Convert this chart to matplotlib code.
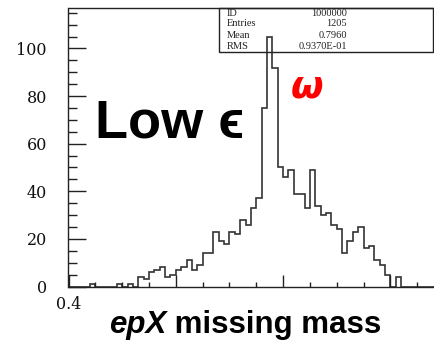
import numpy as np
import matplotlib
matplotlib.use('Agg')
import matplotlib.pyplot as plt
from matplotlib.ticker import MultipleLocator
from matplotlib.patches import Rectangle

# ---- data ----
hist_start = 0.4
bin_width = 0.01
counts = [0, 0, 0, 0, 1, 0, 0, 0, 0, 1,
          0, 1, 0, 4, 3, 6, 7, 8, 4, 5,
          7, 8, 11, 7, 9, 14, 14, 23, 19, 18,
          23, 22, 28, 26, 33, 37, 75, 105, 92, 50,
          46, 49, 39, 39, 33, 49, 34, 30, 31, 26,
          24, 14, 19, 23, 25, 16, 17, 11, 9, 5,
          0, 4, 0, 0, 0, 0, 0, 0, 0, 0]
xticks = [0.4, 0.6, 0.8, 1.0]
xtick_labels = ['0.4', '', '', '']
yticks = [0, 20, 40, 60, 80, 100]
ytick_labels = ['0', '20', '40', '60', '80', '100']
stats_names = ['ID', 'Entries', 'Mean', 'RMS']
stats_values = ['1000000', '1205', '0.7960', '0.9370E-01']

W, H = 435, 341
fig = plt.figure(figsize=(W / 100, H / 100), dpi=100)

def fx(px):
    return px / W

def fy(py):
    return 1 - py / H

left_px, right_px, top_px, bottom_px = 68.5, 444.0, 8.0, 286.5
ax = fig.add_axes([fx(left_px), fy(bottom_px), fx(right_px - left_px), (bottom_px - top_px) / H])

edges = hist_start + bin_width * np.arange(len(counts) + 1)
ax.stairs(counts, edges, color='#333333', linewidth=1.2, baseline=0)

ax.set_xlim(0.4, 1.1)
ax.set_ylim(0, 117)
ax.set_xticks(xticks)
ax.set_xticklabels(xtick_labels)
ax.set_yticks(yticks)
ax.set_yticklabels(ytick_labels)
ax.xaxis.set_minor_locator(MultipleLocator(0.05))
ax.yaxis.set_minor_locator(MultipleLocator(5))

for s in ax.spines.values():
    s.set_linewidth(1.0)
    s.set_color('#222222')
ax.spines['right'].set_visible(False)

ax.tick_params(axis='y', which='major', direction='in', length=12.7, width=1.0,
               pad=15.5, labelsize=11.5, colors='#222222')
ax.tick_params(axis='y', which='minor', direction='in', length=6.8, width=1.0, colors='#222222')
ax.tick_params(axis='x', which='major', direction='in', length=8.6, width=1.0,
               pad=7, labelsize=11.5, colors='#222222')
ax.tick_params(axis='x', which='minor', direction='in', length=3.6, width=1.0, colors='#222222')
for lab in ax.get_xticklabels() + ax.get_yticklabels():
    lab.set_family('DejaVu Serif')
    lab.set_color('#111111')

# stats box
box = Rectangle((fx(219), fy(52.3)), fx(433) - fx(219), fy(8) - fy(52.3),
                transform=fig.transFigure, fill=False, edgecolor='#222222', linewidth=1.0)
fig.add_artist(box)
line_y = [13.3, 24.0, 35.0, 46.7]
for name, val, yy in zip(stats_names, stats_values, line_y):
    fig.text(fx(226.5), fy(yy), name, ha='left', va='center', fontsize=7.5,
             family='Liberation Serif', color='#222222')
    fig.text(fx(347), fy(yy), val, ha='right', va='center', fontsize=7.5,
             family='Liberation Serif', color='#222222')

# annotations
fig.text(fx(95), fy(137), 'Low \u03f5', ha='left', va='baseline', fontsize=39,
         fontweight='bold', family=['Liberation Sans', 'DejaVu Sans'], color='black')
fig.text(fx(291), fy(98), '\u03c9', ha='left', va='baseline', fontsize=27,
         fontweight='bold', fontstyle='italic', family=['DejaVu Sans'], color='#ff0000')

# x label: "epX" bold italic + " missing mass" bold
t1 = fig.text(fx(109), fy(333), 'epX', ha='left', va='baseline', fontsize=22.5,
              fontweight='bold', fontstyle='italic', family='Liberation Sans', color='black')
fig.text(0, 0, '', fontsize=1)
ax.annotate(' missing mass', xy=(1, 0), xycoords=t1, ha='left', va='bottom',
            fontsize=22.5, fontweight='bold', family='Liberation Sans', color='black',
            annotation_clip=False)

fig.savefig('out.png', dpi=100)
